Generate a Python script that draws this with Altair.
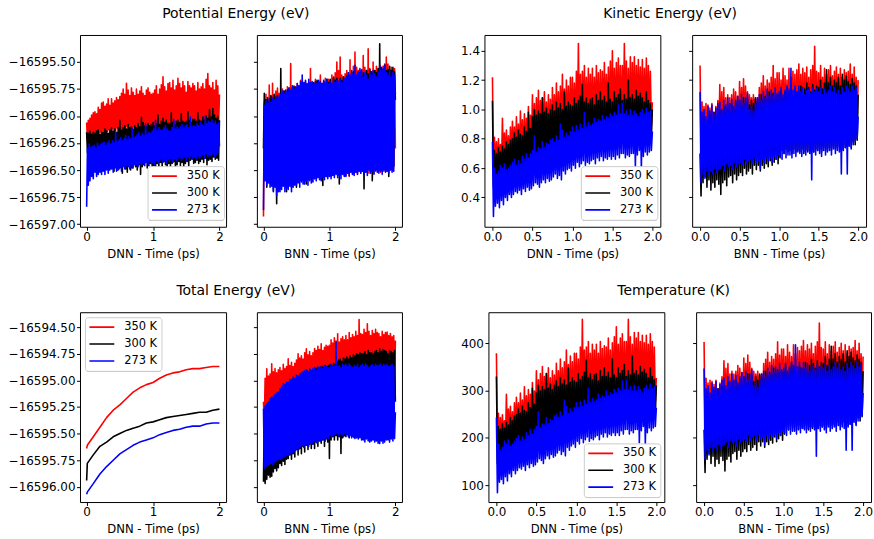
import altair as alt
import pandas as pd

SERIES = ["350 K", "300 K", "273 K"]
COLORS = ["#ff0000", "#000000", "#0000ff"]

# sampling grids (ps): noisy traces and the smooth DNN total-energy traces
TIME_PS = [round(i * 0.0125, 4) for i in range(161)]
TIME_SMOOTH_PS = [0.0, 0.01, 0.1, 0.2, 0.3, 0.4, 0.5, 0.6, 0.7, 0.8, 0.9, 1.0,
                  1.1, 1.2, 1.3, 1.4, 1.5, 1.6, 1.7, 1.8, 1.9, 2.0]

# ---------------- Potential energy: meV relative to -16596 eV ----------------
PE_BASE_EV = -16596.0
PE_DNN_350 = [-60, -230, -40, -210, -20, -200, 10, -190, 30, -180,
              40, -170, 20, -175, 80, -160, 60, -150, 119, -155,
              130, -140, 90, -150, 110, -145, 160, -130, 100, -160,
              160, -120, 120, -150, 140, -135, 170, -110, 150, -125,
              180, -120, 210, -140, 250, -115, 200, -130, 302, -100,
              240, -130, 190, -110, 260, -125, 220, -105, 190, -120,
              250, -100, 200, -140, 230, -110, 270, -90, 210, -120,
              190, -120, 240, -100, 260, -130, 220, -95, 200, -110,
              210, -110, 240, -90, 280, -80, 200, -120, 250, -100,
              290, -90, 363, -100, 270, -110, 230, -85, 300, -95,
              310, -90, 260, -110, 330, -95, 240, -70, 280, -100,
              350, -100, 300, -80, 260, -105, 320, -90, 280, -75,
              220, -100, 320, -80, 280, -95, 260, -110, 300, -85,
              280, -70, 230, -90, 310, -80, 250, -100, 270, -75,
              300, -60, 250, -100, 340, -80, 393, -70, 280, -90,
              260, -60, 310, -90, 240, -70, 330, -85, 280, -95,
              200]
PE_DNN_300 = [-150, -340, -160, -360, -140, -380, -170, -400, -150, -390,
              -160, -420, -140, -450, -130, -430, -170, -440, -150, -460,
              -150, -480, -120, -440, -140, -470, -160, -500, -130, -460,
              -110, -480, -140, -510, -120, -470, -150, -500, -110, -490,
              -40, -470, -130, -530, -110, -460, -90, -490, -120, -520,
              -80, -460, -110, -500, -100, -480, -120, -440, -90, -470,
              -110, -500, -70, -450, -100, -540, -10, -470, -60, -450,
              -90, -430, -100, -480, -70, -460, -90, -440, -80, -500,
              -60, -460, -90, -500, -70, -440, 10, -470, -80, -430,
              -50, -480, -20, -420, -60, -450, -40, -490, -70, -440,
              -70, -470, 30, -440, -60, -420, -80, -500, -50, -450,
              -40, -420, -60, -460, 20, -430, -50, -470, -60, -440,
              -50, -420, 40, -460, -40, -410, -60, -400, -30, -440,
              -30, -430, -50, -410, 30, -440, -40, -420, -50, -400,
              -10, -430, -40, -390, 0, -450, -20, -410, 60, -400,
              -10, -420, 70, -380, 10, -400, -20, -390, 0, -410,
              -40]
PE_DNN_273 = [-840, -300, -640, -260, -600, -290, -560, -280, -580, -270,
              -520, -300, -560, -250, -540, -280, -520, -260, -540, -250,
              -510, -240, -540, -270, -500, -250, -530, -230, -500, -260,
              -490, -230, -520, -250, -480, -150, -510, -240, -500, -220,
              -480, -200, -510, -230, -470, -210, -490, -180, -460, -220,
              -470, -190, -490, -210, -460, -120, -480, -200, -450, -190,
              -450, -170, -470, -150, -440, -190, -460, -160, -440, -180,
              -460, -70, -430, -170, -450, -150, -420, -160, -440, -140,
              -430, -120, -450, -40, -410, -140, -440, -110, -420, -130,
              -400, -130, -430, -110, -410, -90, -440, -120, -400, -140,
              -420, -140, -390, -110, -430, -30, -400, -120, -410, -100,
              -400, -120, -380, -100, -410, -80, -390, -110, -380, -90,
              -410, -80, -380, -110, -400, -10, -370, -100, -390, -90,
              -380, -100, -400, -70, -370, -90, -390, -60, -380, -80,
              -360, -90, -390, 0, -350, -70, -380, -50, -360, -60,
              -370, -34, -350, -70, -380, -50, -360, -80, -350, -60,
              -280]
PE_BNN_350 = [-930, 130, -560, 200, -600, 150, -580, 287, -620, 180,
              -600, 302, -610, 190, -640, 230, -590, 260, -620, 210,
              -640, 200, -600, 250, -580, 230, -620, 220, -610, 270,
              -600, 240, -610, 485, -570, 260, -590, 280, -560, 250,
              -590, 300, -560, 280, -600, 330, -570, 310, -550, 290,
              -580, 320, -550, 290, -570, 310, -600, 439, -560, 300,
              -560, 300, -580, 340, -540, 320, -570, 280, -550, 378,
              -540, 280, -570, 320, -550, 350, -530, 310, -560, 340,
              -540, 330, -560, 380, -530, 350, -550, 400, -520, 500,
              -550, 420, -530, 545, -540, 380, -520, 360, -550, 390,
              -550, 420, -530, 380, -560, 520, -520, 400, -540, 460,
              -530, 591, -520, 450, -540, 420, -510, 400, -530, 430,
              -510, 560, -540, 450, -520, 420, -500, 622, -530, 440,
              -520, 410, -500, 500, -530, 420, -510, 460, -490, 430,
              -500, 470, -520, 440, -490, 460, -510, 480, -500, 545,
              -510, 480, -480, 430, -500, 450, -490, 420, -470, 440,
              -300]
PE_BNN_300 = [-300, 210, -590, 150, -659, 170, -600, 130, -620, 190,
              -640, 160, -700, 200, -650, 170, -811, 190, -680, 150,
              -660, 439, -650, 180, -640, 230, -620, 210, -700, 240,
              -640, 260, -630, 230, -660, 250, -620, 270, -610, 240,
              -659, 260, -600, 240, -590, 280, -610, 300, -580, 270,
              -600, 290, -628, 270, -580, 300, -590, 280, -570, 310,
              -560, 310, -550, 290, -570, 330, -540, 280, -560, 320,
              -550, 300, -643, 320, -540, 290, -560, 340, -530, 310,
              -520, 340, -540, 300, -510, 360, -530, 330, -520, 350,
              -540, 320, -628, 350, -520, 330, -510, 360, -530, 340,
              -500, 370, -520, 400, -490, 340, -510, 380, -500, 410,
              -510, 380, -490, 360, -520, 400, -500, 390, -480, 370,
              -500, 400, -674, 370, -490, 420, -510, 390, -480, 430,
              -490, 410, -598, 390, -480, 420, -500, 400, -470, 440,
              -490, 668, -480, 450, -500, 400, -470, 470, -490, 420,
              -480, 430, -560, 460, -470, 420, -490, 450, -460, 410,
              150]
PE_BNN_273 = [-870, 100, -600, 140, -640, 120, -620, 160, -660, 130,
              -650, 170, -690, 150, -660, 180, -735, 160, -700, 190,
              -700, 200, -680, 230, -650, 210, -700, 240, -670, 220,
              -680, 260, -650, 240, -700, 280, -660, 250, -640, 270,
              -640, 300, -620, 280, -660, 320, -600, 378, -630, 310,
              -630, 330, -600, 300, -640, 340, -590, 310, -620, 320,
              -610, 290, -580, 320, -600, 300, -570, 330, -590, 310,
              -600, 300, -570, 330, -590, 310, -560, 340, -580, 300,
              -560, 320, -580, 300, -550, 340, -570, 310, -540, 330,
              -570, 320, -550, 340, -580, 310, -540, 330, -560, 350,
              -560, 360, -530, 400, -550, 380, -520, 420, -540, 390,
              -550, 470, -520, 380, -540, 410, -510, 440, -530, 420,
              -510, 360, -540, 400, -520, 380, -550, 340, -500, 410,
              -530, 380, -510, 420, -540, 390, -500, 360, -520, 410,
              -530, 470, -510, 420, -540, 440, -500, 470, -520, 400,
              -510, 380, -530, 420, -500, 360, -520, 400, -510, 380,
              200]

# ---------------- Kinetic energy (eV) ----------------
KE_DNN_350 = [1.22, 0.62, 0.81, 0.60, 0.78, 0.58, 0.80, 0.63, 0.76, 0.60,
              0.94, 0.61, 0.84, 0.64, 0.86, 0.62, 0.82, 0.60, 0.88, 0.64,
              0.92, 0.66, 0.88, 0.63, 0.95, 0.65, 0.90, 0.62, 0.99, 0.67,
              0.93, 0.65, 0.97, 0.68, 0.94, 0.66, 1.02, 0.69, 0.96, 0.70,
              1.10, 0.72, 1.04, 0.70, 1.08, 0.73, 1.13, 0.71, 1.06, 0.74,
              1.08, 0.72, 1.12, 0.75, 1.05, 0.73, 1.10, 0.76, 1.07, 0.74,
              1.15, 0.78, 1.10, 0.76, 1.18, 0.79, 1.12, 0.80, 1.16, 0.77,
              1.24, 0.82, 1.14, 0.79, 1.20, 0.81, 1.16, 0.78, 1.22, 0.80,
              1.22, 0.84, 1.18, 0.82, 1.26, 0.83, 1.45, 0.82, 1.24, 0.86,
              1.26, 0.86, 1.30, 0.83, 1.22, 0.85, 1.28, 0.84, 1.24, 0.85,
              1.28, 0.84, 1.22, 0.88, 1.30, 0.86, 1.25, 0.83, 1.27, 0.87,
              1.26, 0.87, 1.32, 0.85, 1.24, 0.88, 1.29, 0.86, 1.33, 0.85,
              1.40, 0.86, 1.28, 0.90, 1.32, 0.87, 1.35, 0.84, 1.30, 0.88,
              1.30, 0.88, 1.45, 0.86, 1.33, 0.89, 1.28, 0.87, 1.36, 0.88,
              1.32, 0.88, 1.36, 0.85, 1.30, 0.89, 1.34, 0.90, 1.29, 0.87,
              1.34, 0.87, 1.28, 0.89, 1.35, 0.88, 1.30, 0.90, 1.26, 0.89,
              1.05]
KE_DNN_300 = [1.06, 0.47, 0.72, 0.50, 0.70, 0.52, 0.74, 0.48, 0.71, 0.51,
              0.75, 0.52, 0.73, 0.54, 0.78, 0.50, 0.76, 0.55, 0.79, 0.53,
              0.80, 0.56, 0.84, 0.58, 0.81, 0.55, 0.86, 0.57, 0.83, 0.59,
              0.82, 0.58, 0.88, 0.60, 0.85, 0.61, 0.98, 0.59, 0.87, 0.62,
              0.95, 0.63, 1.00, 0.62, 0.96, 0.65, 0.99, 0.63, 0.97, 0.66,
              1.08, 0.64, 0.98, 0.67, 1.01, 0.65, 0.97, 0.68, 1.00, 0.66,
              1.03, 0.68, 0.99, 0.70, 1.05, 0.67, 1.01, 0.69, 1.04, 0.70,
              1.00, 0.72, 1.12, 0.70, 1.02, 0.71, 1.05, 0.69, 1.03, 0.72,
              1.02, 0.72, 1.08, 0.70, 1.04, 0.73, 1.06, 0.71, 1.09, 0.74,
              1.17, 0.72, 1.05, 0.75, 1.08, 0.73, 1.04, 0.74, 1.07, 0.72,
              1.08, 0.73, 1.03, 0.76, 1.10, 0.74, 1.06, 0.72, 1.12, 0.75,
              1.06, 0.75, 1.09, 0.73, 1.05, 0.76, 1.18, 0.74, 1.07, 0.75,
              1.05, 0.76, 1.12, 0.74, 1.08, 0.77, 1.10, 0.75, 1.14, 0.76,
              1.06, 0.78, 1.10, 0.75, 1.07, 0.77, 1.20, 0.76, 1.08, 0.78,
              1.10, 0.76, 1.07, 0.79, 1.13, 0.75, 1.09, 0.78, 1.11, 0.77,
              1.08, 0.78, 1.05, 0.80, 1.12, 0.77, 1.06, 0.79, 1.04, 0.80,
              1.00]
KE_DNN_273 = [0.78, 0.27, 0.60, 0.34, 0.56, 0.36, 0.58, 0.33, 0.62, 0.38,
              0.60, 0.35, 0.63, 0.40, 0.59, 0.38, 0.60, 0.42, 0.62, 0.40,
              0.64, 0.42, 0.66, 0.44, 0.62, 0.43, 0.65, 0.45, 0.63, 0.42,
              0.68, 0.46, 0.66, 0.44, 0.70, 0.47, 0.67, 0.45, 0.70, 0.46,
              0.72, 0.48, 0.82, 0.50, 0.71, 0.49, 0.74, 0.47, 0.73, 0.50,
              0.78, 0.52, 0.74, 0.50, 0.77, 0.53, 0.76, 0.51, 0.79, 0.52,
              0.80, 0.54, 0.78, 0.56, 0.82, 0.53, 0.79, 0.55, 0.90, 0.52,
              0.86, 0.58, 0.81, 0.56, 0.84, 0.59, 0.82, 0.60, 0.85, 0.58,
              0.88, 0.62, 0.85, 0.60, 0.89, 0.64, 0.86, 0.61, 0.90, 0.63,
              0.87, 0.65, 0.98, 0.62, 0.88, 0.64, 0.91, 0.63, 0.89, 0.65,
              0.90, 0.66, 0.94, 0.63, 0.91, 0.67, 0.93, 0.65, 0.92, 0.68,
              0.96, 0.65, 0.93, 0.67, 0.95, 0.66, 0.94, 0.68, 0.97, 0.66,
              0.95, 0.68, 0.98, 0.66, 0.96, 0.69, 1.03, 0.67, 0.97, 0.70,
              1.04, 0.70, 0.97, 0.67, 0.99, 0.69, 0.96, 0.68, 1.00, 0.70,
              0.96, 0.70, 0.99, 0.61, 0.97, 0.69, 0.95, 0.72, 0.98, 0.60,
              1.00, 0.68, 0.97, 0.71, 1.01, 0.69, 0.98, 0.71, 0.99, 0.72,
              0.85]
KE_BNN_350 = [1.30, 0.72, 1.05, 0.76, 1.02, 0.78, 1.04, 0.74, 1.03, 0.77,
              1.01, 0.80, 1.04, 0.75, 0.98, 0.79, 1.02, 0.77, 1.06, 0.80,
              1.17, 0.80, 1.12, 0.78, 1.15, 0.82, 1.08, 0.79, 1.10, 0.81,
              1.08, 0.82, 1.10, 0.79, 1.14, 0.83, 1.12, 0.81, 1.09, 0.84,
              1.19, 0.83, 1.15, 0.85, 1.21, 0.82, 1.16, 0.86, 1.12, 0.95,
              1.10, 0.96, 1.08, 0.94, 1.10, 0.97, 1.07, 0.95, 1.08, 0.85,
              1.15, 0.84, 1.18, 0.86, 1.23, 0.82, 1.16, 0.85, 1.20, 0.87,
              1.18, 0.86, 1.22, 0.84, 1.30, 0.83, 1.21, 0.87, 1.25, 0.85,
              1.25, 0.86, 1.20, 0.88, 1.28, 0.84, 1.23, 0.87, 1.20, 0.86,
              1.28, 0.87, 1.22, 0.85, 1.26, 0.88, 1.24, 0.86, 1.27, 0.88,
              1.31, 0.86, 1.24, 0.89, 1.28, 0.85, 1.25, 0.88, 1.29, 0.87,
              1.22, 0.88, 1.27, 0.86, 1.30, 0.89, 1.43, 0.87, 1.26, 0.88,
              1.25, 0.88, 1.30, 0.86, 1.22, 0.89, 1.28, 0.87, 1.24, 0.90,
              1.27, 0.85, 1.30, 0.88, 1.23, 0.86, 1.26, 0.89, 1.29, 0.87,
              1.24, 0.87, 1.28, 0.89, 1.22, 0.86, 1.27, 0.88, 1.25, 0.90,
              1.26, 0.88, 1.31, 0.90, 1.24, 0.87, 1.29, 0.89, 1.22, 0.91,
              1.20]
KE_BNN_300 = [0.70, 0.41, 0.90, 0.50, 0.95, 0.54, 0.88, 0.47, 0.92, 0.52,
              0.96, 0.45, 0.92, 0.50, 0.98, 0.47, 0.94, 0.52, 1.00, 0.49,
              1.00, 0.42, 0.96, 0.50, 1.02, 0.52, 0.98, 0.48, 1.03, 0.54,
              0.98, 0.55, 1.04, 0.50, 1.00, 0.56, 1.05, 0.52, 1.02, 0.55,
              1.06, 0.57, 1.02, 0.55, 1.08, 0.60, 1.04, 0.56, 1.07, 0.58,
              1.03, 0.60, 1.06, 0.56, 1.04, 0.62, 1.08, 0.59, 1.05, 0.62,
              1.05, 0.58, 1.10, 0.62, 1.06, 0.60, 1.09, 0.63, 1.07, 0.61,
              1.12, 0.65, 1.08, 0.62, 1.11, 0.64, 1.07, 0.66, 1.10, 0.63,
              1.10, 0.67, 1.14, 0.72, 1.08, 0.70, 1.12, 0.73, 1.15, 0.71,
              1.11, 0.72, 1.13, 0.70, 1.09, 0.73, 1.14, 0.71, 1.12, 0.72,
              1.12, 0.71, 1.16, 0.73, 1.10, 0.70, 1.14, 0.72, 1.18, 0.71,
              1.15, 0.72, 1.12, 0.74, 1.17, 0.71, 1.13, 0.73, 1.16, 0.72,
              1.15, 0.73, 1.20, 0.71, 1.14, 0.74, 1.18, 0.72, 1.27, 0.73,
              1.18, 0.74, 1.22, 0.72, 1.16, 0.75, 1.20, 0.73, 1.18, 0.74,
              1.22, 0.75, 1.16, 0.73, 1.24, 0.76, 1.20, 0.74, 1.23, 0.75,
              1.19, 0.77, 1.17, 0.74, 1.21, 0.78, 1.18, 0.76, 1.16, 0.79,
              1.10]
KE_BNN_273 = [1.12, 0.50, 0.98, 0.56, 1.00, 0.53, 0.95, 0.58, 1.02, 0.55,
              0.99, 0.58, 1.03, 0.56, 0.97, 0.60, 1.01, 0.57, 1.04, 0.59,
              1.05, 0.60, 1.00, 0.62, 1.06, 0.58, 1.03, 0.63, 1.08, 0.61,
              1.04, 0.62, 1.07, 0.59, 1.02, 0.64, 1.06, 0.61, 1.09, 0.63,
              1.06, 0.64, 1.10, 0.62, 1.04, 0.66, 1.08, 0.63, 1.11, 0.65,
              1.00, 0.66, 1.02, 0.63, 0.99, 0.67, 1.04, 0.64, 1.08, 0.65,
              1.10, 0.60, 1.06, 0.66, 1.12, 0.64, 1.08, 0.67, 1.14, 0.65,
              1.09, 0.67, 1.13, 0.64, 1.10, 0.68, 1.15, 0.66, 1.11, 0.69,
              1.12, 0.68, 1.15, 0.66, 1.10, 0.70, 1.13, 0.67, 1.16, 0.69,
              1.14, 0.69, 1.28, 0.67, 1.13, 0.70, 1.16, 0.68, 1.12, 0.71,
              1.16, 0.70, 1.12, 0.68, 1.15, 0.71, 1.10, 0.69, 1.13, 0.72,
              1.14, 0.70, 1.11, 0.52, 1.15, 0.71, 1.12, 0.69, 1.14, 0.72,
              1.12, 0.70, 1.15, 0.68, 1.10, 0.72, 1.14, 0.69, 1.11, 0.71,
              1.13, 0.72, 1.16, 0.69, 1.12, 0.73, 1.15, 0.70, 1.11, 0.72,
              1.13, 0.71, 1.10, 0.56, 1.15, 0.72, 1.12, 0.74, 1.16, 0.56,
              1.14, 0.75, 1.12, 0.73, 1.16, 0.76, 1.13, 0.78, 1.15, 0.80,
              0.95]

# ---------------- Total energy ----------------
TE_DNN_350 = [-16595.64, -16595.61, -16595.53, -16595.44, -16595.35, -16595.28,
              -16595.23, -16595.17, -16595.11, -16595.07, -16595.04, -16595.02,
              -16594.98, -16594.95, -16594.93, -16594.92, -16594.90, -16594.89,
              -16594.89, -16594.88, -16594.87, -16594.87]
TE_DNN_300 = [-16595.94, -16595.78, -16595.70, -16595.62, -16595.58, -16595.53,
              -16595.50, -16595.47, -16595.45, -16595.43, -16595.40, -16595.39,
              -16595.37, -16595.35, -16595.34, -16595.33, -16595.32, -16595.31,
              -16595.30, -16595.30, -16595.28, -16595.27]
TE_DNN_273 = [-16596.07, -16596.05, -16595.97, -16595.88, -16595.81, -16595.75,
              -16595.69, -16595.65, -16595.61, -16595.58, -16595.56, -16595.54,
              -16595.51, -16595.49, -16595.47, -16595.46, -16595.44, -16595.43,
              -16595.43, -16595.41, -16595.40, -16595.40]
# BNN total energy: meV relative to -16595 eV
TE_BASE_EV = -16595.0
TE_BNN_350 = [-200, -420, 20, -400, 109, -380, 40, -390, 60, -370,
              156, -360, 80, -380, 110, -350, 70, -370, 100, -340,
              120, -350, 90, -330, 150, -360, 110, -340, 130, -320,
              203, -340, 140, -320, 170, -350, 130, -310, 160, -330,
              190, -300, 250, -320, 210, -290, 230, -310, 200, -280,
              260, -300, 297, -290, 240, -310, 270, -280, 230, -290,
              260, -270, 300, -300, 280, -260, 320, -280, 290, -270,
              344, -260, 280, -290, 310, -250, 330, -270, 320, -250,
              330, -240, 380, -260, 350, -230, 400, -250, 370, -240,
              437, -230, 360, -250, 390, -220, 410, -240, 380, -220,
              422, -230, 380, -210, 450, -240, 400, -220, 430, -200,
              410, -220, 460, -230, 420, -200, 572, -210, 440, -190,
              430, -210, 480, -190, 450, -220, 531, -200, 460, -210,
              420, -200, 469, -180, 440, -210, 480, -190, 450, -200,
              440, -200, 410, -170, 460, -210, 430, -190, 450, -180,
              453, -190, 420, -180, 440, -200, 410, -170, 420, -180,
              375]
TE_BNN_300 = [-953, -300, -969, -250, -930, -220, -890, -200, -910, -190,
              -900, -170, -860, -150, -828, -140, -850, -120, -820, -120,
              -780, -90, -800, -70, -760, -50, -790, -40, -740, -30,
              -734, -20, -700, 0, -740, 10, -690, 20, -720, 10,
              -650, 40, -700, 30, -640, 60, -690, 50, -620, 70,
              -672, 80, -610, 90, -650, 70, -600, 100, -640, 90,
              -600, 100, -640, 110, -580, 120, -620, 100, -570, 120,
              -590, 130, -560, 120, -620, 140, -550, 130, -580, 140,
              -734, 150, -560, 140, -530, 160, -560, 150, -520, 170,
              -560, 190, -530, 200, -687, 180, -540, 210, -520, 200,
              -530, 220, -510, 200, -540, 230, -500, 210, -520, 240,
              -540, 230, -510, 250, -530, 240, -500, 260, -520, 250,
              -550, 250, -520, 270, -540, 240, -510, 280, -530, 260,
              -540, 260, -510, 250, -530, 270, -500, 280, -520, 260,
              -530, 297, -510, 270, -540, 290, -500, 280, -520, 270,
              -510, 250, -530, 280, -500, 270, -520, 260, -500, 280,
              -200]
TE_BNN_273 = [-266, -828, -240, -810, -220, -800, -200, -790, -172, -780,
              -160, -790, -150, -770, -130, -760, -120, -750, -109, -740,
              -80, -740, -60, -730, -31, -720, -40, -710, -20, -703,
              -10, -700, 10, -690, 0, -680, 30, -670, 20, -660,
              47, -640, 40, -650, 60, -620, 70, -609, 80, -630,
              90, -610, 100, -600, 80, -620, 110, -590, 90, -600,
              110, -580, 120, -570, 100, -590, 130, -562, 120, -570,
              130, -560, 110, -550, 140, -570, 130, -540, 120, -550,
              120, -516, 150, -530, 130, -520, 140, -510, 359, -500,
              130, -520, 140, -500, 120, -510, 150, -530, 140, -500,
              150, -510, 130, -530, 156, -520, 140, -540, 120, -530,
              140, -547, 130, -540, 150, -550, 120, -540, 140, -560,
              150, -560, 130, -578, 156, -550, 140, -570, 120, -580,
              140, -570, 150, -560, 130, -580, 150, -570, 140, -590,
              140, -594, 156, -570, 130, -590, 150, -580, 140, -560,
              150, -560, 130, -580, 140, -550, 150, -570, 130, -547,
              -300]

# ---------------- Temperature (K) ----------------
T_DNN_350 = [379, 193, 252, 187, 243, 180, 249, 196, 236, 187,
             292, 190, 261, 199, 267, 193, 255, 187, 274, 199,
             286, 205, 274, 196, 295, 202, 280, 193, 308, 208,
             289, 202, 302, 211, 292, 205, 317, 215, 299, 218,
             342, 224, 323, 218, 336, 227, 351, 221, 330, 230,
             336, 224, 348, 233, 327, 227, 342, 236, 333, 230,
             358, 243, 342, 236, 367, 246, 348, 249, 361, 239,
             386, 255, 355, 246, 373, 252, 361, 243, 379, 249,
             379, 261, 367, 255, 392, 258, 451, 255, 386, 267,
             392, 267, 404, 258, 379, 264, 398, 261, 386, 264,
             398, 261, 379, 274, 404, 267, 389, 258, 395, 271,
             392, 271, 411, 264, 386, 274, 401, 267, 414, 264,
             435, 267, 398, 280, 411, 271, 420, 261, 404, 274,
             404, 274, 451, 267, 414, 277, 398, 271, 423, 274,
             411, 274, 423, 264, 404, 277, 417, 280, 401, 271,
             417, 271, 398, 277, 420, 274, 404, 280, 392, 277,
             327]
T_DNN_300 = [330, 146, 224, 156, 218, 162, 230, 149, 221, 159,
             233, 162, 227, 168, 243, 156, 236, 171, 246, 165,
             249, 174, 261, 180, 252, 171, 267, 177, 258, 183,
             255, 180, 274, 187, 264, 190, 305, 183, 271, 193,
             295, 196, 311, 193, 299, 202, 308, 196, 302, 205,
             336, 199, 305, 208, 314, 202, 302, 211, 311, 205,
             320, 211, 308, 218, 327, 208, 314, 215, 323, 218,
             311, 224, 348, 218, 317, 221, 327, 215, 320, 224,
             317, 224, 336, 218, 323, 227, 330, 221, 339, 230,
             364, 224, 327, 233, 336, 227, 323, 230, 333, 224,
             336, 227, 320, 236, 342, 230, 330, 224, 348, 233,
             330, 233, 339, 227, 327, 236, 367, 230, 333, 233,
             327, 236, 348, 230, 336, 239, 342, 233, 355, 236,
             330, 243, 342, 233, 333, 239, 373, 236, 336, 243,
             342, 236, 333, 246, 351, 233, 339, 243, 345, 239,
             336, 243, 327, 249, 348, 239, 330, 246, 323, 249,
             311]
T_DNN_273 = [243, 84, 187, 106, 174, 112, 180, 103, 193, 118,
             187, 109, 196, 124, 183, 118, 187, 131, 193, 124,
             199, 131, 205, 137, 193, 134, 202, 140, 196, 131,
             211, 143, 205, 137, 218, 146, 208, 140, 218, 143,
             224, 149, 255, 156, 221, 152, 230, 146, 227, 156,
             243, 162, 230, 156, 239, 165, 236, 159, 246, 162,
             249, 168, 243, 174, 255, 165, 246, 171, 280, 162,
             267, 180, 252, 174, 261, 183, 255, 187, 264, 180,
             274, 193, 264, 187, 277, 199, 267, 190, 280, 196,
             271, 202, 305, 193, 274, 199, 283, 196, 277, 202,
             280, 205, 292, 196, 283, 208, 289, 202, 286, 211,
             299, 202, 289, 208, 295, 205, 292, 211, 302, 205,
             295, 211, 305, 205, 299, 215, 320, 208, 302, 218,
             323, 218, 302, 208, 308, 215, 299, 211, 311, 218,
             299, 218, 308, 190, 302, 215, 295, 224, 305, 187,
             311, 211, 302, 221, 314, 215, 305, 221, 308, 224,
             264]
T_BNN_350 = [403, 223, 326, 236, 316, 242, 322, 229, 319, 239,
             313, 248, 322, 233, 304, 245, 316, 239, 329, 248,
             363, 248, 347, 242, 357, 254, 335, 245, 341, 251,
             335, 254, 341, 245, 353, 257, 347, 251, 338, 260,
             369, 257, 357, 264, 375, 254, 360, 267, 347, 295,
             341, 298, 335, 291, 341, 301, 332, 295, 335, 264,
             357, 260, 366, 267, 381, 254, 360, 264, 372, 270,
             366, 267, 378, 260, 403, 257, 375, 270, 388, 264,
             388, 267, 372, 273, 397, 260, 381, 270, 372, 267,
             397, 270, 378, 264, 391, 273, 384, 267, 394, 273,
             406, 267, 384, 276, 397, 264, 388, 273, 400, 270,
             378, 273, 394, 267, 403, 276, 443, 270, 391, 273,
             388, 273, 403, 267, 378, 276, 397, 270, 384, 279,
             394, 264, 403, 273, 381, 267, 391, 276, 400, 270,
             384, 270, 397, 276, 378, 267, 394, 273, 388, 279,
             391, 273, 406, 279, 384, 270, 400, 276, 378, 282,
             372]
T_BNN_300 = [217, 127, 279, 155, 295, 167, 273, 146, 285, 161,
             298, 140, 285, 155, 304, 146, 291, 161, 310, 152,
             310, 130, 298, 155, 316, 161, 304, 149, 319, 167,
             304, 171, 322, 155, 310, 174, 326, 161, 316, 171,
             329, 177, 316, 171, 335, 186, 322, 174, 332, 180,
             319, 186, 329, 174, 322, 192, 335, 183, 326, 192,
             326, 180, 341, 192, 329, 186, 338, 195, 332, 189,
             347, 202, 335, 192, 344, 198, 332, 205, 341, 195,
             341, 208, 353, 223, 335, 217, 347, 226, 357, 220,
             344, 223, 350, 217, 338, 226, 353, 220, 347, 223,
             347, 220, 360, 226, 341, 217, 353, 223, 366, 220,
             357, 223, 347, 229, 363, 220, 350, 226, 360, 223,
             357, 226, 372, 220, 353, 229, 366, 223, 394, 226,
             366, 229, 378, 223, 360, 233, 372, 226, 366, 229,
             378, 233, 360, 226, 384, 236, 372, 229, 381, 233,
             369, 239, 363, 229, 375, 242, 366, 236, 360, 245,
             341]
T_BNN_273 = [347, 155, 304, 174, 310, 164, 295, 180, 316, 171,
             307, 180, 319, 174, 301, 186, 313, 177, 322, 183,
             326, 186, 310, 192, 329, 180, 319, 195, 335, 189,
             322, 192, 332, 183, 316, 198, 329, 189, 338, 195,
             329, 198, 341, 192, 322, 205, 335, 195, 344, 202,
             310, 205, 316, 195, 307, 208, 322, 198, 335, 202,
             341, 186, 329, 205, 347, 198, 335, 208, 353, 202,
             338, 208, 350, 198, 341, 211, 357, 205, 344, 214,
             347, 211, 357, 205, 341, 217, 350, 208, 360, 214,
             353, 214, 397, 208, 350, 217, 360, 211, 347, 220,
             360, 217, 347, 211, 357, 220, 341, 214, 350, 223,
             353, 217, 344, 161, 357, 220, 347, 214, 353, 223,
             347, 217, 357, 211, 341, 223, 353, 214, 344, 220,
             350, 223, 360, 214, 347, 226, 357, 217, 344, 223,
             350, 220, 341, 174, 357, 223, 347, 229, 360, 174,
             353, 233, 347, 226, 360, 236, 350, 242, 357, 248,
             295]

FONT = "DejaVu Sans"
LEG_W, LEG_H = 74, 53


def build(time, lists, base=0.0, unit=1.0):
    rows = []
    for name, vals in zip(SERIES, lists):
        assert len(vals) == len(time), (name, len(vals), len(time))
        for t, v in zip(time, vals):
            rows.append({"t": t, "v": base + v * unit, "series": name})
    return pd.DataFrame(rows)


def panel(df, w, h, ydom, yticks, yfmt, xticks, xfmt, xtitle, ylabels, legend_pos=None):
    cscale = alt.Scale(domain=SERIES, range=COLORS)
    xenc = alt.X("t:Q", scale=alt.Scale(domain=[-0.1, 2.1], nice=False, zero=False),
                 axis=alt.Axis(values=xticks, format=xfmt, title=xtitle))
    yenc = alt.Y("v:Q", scale=alt.Scale(domain=ydom, nice=False, zero=False),
                 axis=alt.Axis(values=yticks, format=yfmt, title=None, labels=ylabels))
    if legend_pos is not None:
        leg = alt.Legend(orient="none", legendX=legend_pos[0], legendY=legend_pos[1],
                         title=None, symbolType="stroke")
    else:
        leg = None
    layers = []
    for name in SERIES:
        layers.append(
            alt.Chart(df).transform_filter(alt.datum.series == name)
            .mark_line(strokeWidth=1.6, strokeJoin="round", clip=True)
            .encode(x=xenc, y=yenc,
                    color=alt.Color("series:N", scale=cscale, legend=leg))
        )
    if legend_pos is not None:
        lx, ly = legend_pos
        layers.append(
            alt.Chart(pd.DataFrame({"k": [0]})).mark_rect(fill="#999999", opacity=1)
            .encode(x=alt.value(lx + 2), x2=alt.value(lx + 2 + LEG_W),
                    y=alt.value(ly + 2), y2=alt.value(ly + 2 + LEG_H))
        )
    return alt.layer(*layers).properties(width=w, height=h)


PE_TICKS = [-16597.0, -16596.75, -16596.5, -16596.25, -16596.0, -16595.75, -16595.5]
TE_TICKS = [-16596.0, -16595.75, -16595.5, -16595.25, -16595.0, -16594.75, -16594.5]
KE_TICKS = [0.4, 0.6, 0.8, 1.0, 1.2, 1.4]
T_TICKS = [100, 200, 300, 400]
X_INT = [0, 1, 2]
X_HALF = [0.0, 0.5, 1.0, 1.5, 2.0]

PE_DOM = [-16597.025, -16595.25]
TE_DOM = [-16596.143, -16594.36]
KE_DOM = [0.2, 1.508]
T_DOM = [64.3, 465.8]

pe_dnn = build(TIME_PS, [PE_DNN_350, PE_DNN_300, PE_DNN_273], PE_BASE_EV, 0.001)
pe_bnn = build(TIME_PS, [PE_BNN_350, PE_BNN_300, PE_BNN_273], PE_BASE_EV, 0.001)
ke_dnn = build(TIME_PS, [KE_DNN_350, KE_DNN_300, KE_DNN_273])
ke_bnn = build(TIME_PS, [KE_BNN_350, KE_BNN_300, KE_BNN_273])
te_dnn = build(TIME_SMOOTH_PS, [TE_DNN_350, TE_DNN_300, TE_DNN_273])
te_bnn = build(TIME_PS, [TE_BNN_350, TE_BNN_300, TE_BNN_273], TE_BASE_EV, 0.001)
t_dnn = build(TIME_PS, [T_DNN_350, T_DNN_300, T_DNN_273])
t_bnn = build(TIME_PS, [T_BNN_350, T_BNN_300, T_BNN_273])

A = panel(pe_dnn, 147, 193, PE_DOM, PE_TICKS, ".2f", X_INT, "d", "DNN - Time (ps)", True, (68, 132))
B = panel(pe_bnn, 146, 193, PE_DOM, PE_TICKS, ".2f", X_INT, "d", "BNN - Time (ps)", False)
C = panel(ke_dnn, 177, 193, KE_DOM, KE_TICKS, ".1f", X_HALF, ".1f", "DNN - Time (ps)", True, (97, 132))
D = panel(ke_bnn, 175, 193, KE_DOM, KE_TICKS, ".1f", X_HALF, ".1f", "BNN - Time (ps)", False)
E = panel(te_dnn, 147, 191, TE_DOM, TE_TICKS, ".2f", X_INT, "d", "DNN - Time (ps)", True, (5, 5))
F = panel(te_bnn, 146, 191, TE_DOM, TE_TICKS, ".2f", X_INT, "d", "BNN - Time (ps)", False)
G = panel(t_dnn, 177, 191, T_DOM, T_TICKS, "d", X_HALF, ".1f", "DNN - Time (ps)", True, (96, 132))
H = panel(t_bnn, 176, 191, T_DOM, T_TICKS, "d", X_HALF, ".1f", "BNN - Time (ps)", False)


def group(p1, p2, title, dx):
    return alt.hconcat(
        p1, p2, spacing=25,
        title=alt.TitleParams(title, anchor="middle", dx=dx, offset=13.5, fontSize=14,
                              fontWeight="normal", font=FONT, color="black"),
    ).resolve_scale(color="independent").resolve_legend(color="independent")


row1 = alt.hconcat(group(A, B, "Potential Energy (eV)", 31),
                   group(C, D, "Kinetic Energy (eV)", 6),
                   spacing=57).resolve_scale(color="independent").resolve_legend(color="independent")
row2 = alt.hconcat(group(E, F, "Total Energy (eV)", 31),
                   group(G, H, "Temperature (K)", 7),
                   spacing=57).resolve_scale(color="independent").resolve_legend(color="independent")

chart = (
    alt.vconcat(row1, row2, spacing=23)
    .resolve_scale(color="independent").resolve_legend(color="independent")
    .properties(padding={"left": 7.5, "top": 5.5, "right": 0, "bottom": 0}, background="white")
    .configure(font=FONT)
    .configure_view(stroke="black", strokeWidth=1)
    .configure_axis(labelFontSize=12, titleFontSize=11.7, labelColor="black", titleColor="black",
                    tickColor="black", tickSize=3.5, tickWidth=1, labelPadding=1.5, titlePadding=6,
                    titleFontWeight="normal", domain=False, grid=False, labelFlush=False,
                    labelOverlap=False, labelFont=FONT, titleFont=FONT)
    .configure_legend(labelFontSize=11.5, labelFont=FONT, labelColor="black", padding=3.5,
                      clipHeight=13, rowPadding=4, symbolStrokeWidth=1.6, symbolSize=625,
                      labelOffset=9, strokeColor="#cccccc", fillColor="white", cornerRadius=3)
)

chart.save("out.html", embed_options={"renderer": "svg", "actions": False})
